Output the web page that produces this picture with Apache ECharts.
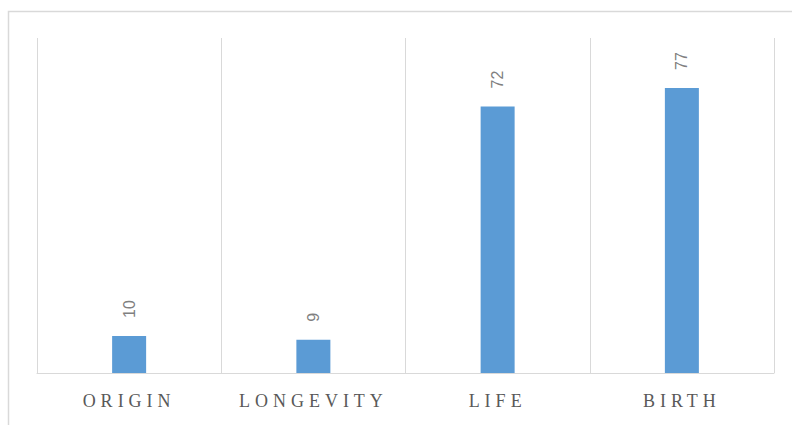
<!DOCTYPE html>
<html>
<head>
<meta charset="utf-8">
<script src="https://cdn.jsdelivr.net/npm/echarts@6/dist/echarts.min.js"></script>
<style>
  html, body { margin: 0; padding: 0; background: #fff; }
  #chart { width: 792px; height: 425px; }
  /* spaced capitals on the category labels */
  #chart text[style*="Serif"] { letter-spacing: 5px; }
</style>
</head>
<body>
<div id="chart"></div>
<script>
const categories = ['ORIGIN', 'LONGEVITY', 'LIFE', 'BIRTH'];
const values = [10, 9, 72, 77];
const axisMax = 90.5;

const chart = echarts.init(document.getElementById('chart'), null, { renderer: 'svg' });

chart.setOption({
  backgroundColor: '#ffffff',
  animation: false,
  graphic: [{
    type: 'polyline',
    shape: { points: [[8.5, 430], [8.5, 11.5], [800, 11.5]] },
    style: { stroke: '#d9d9d9', lineWidth: 1.5, fill: null },
    silent: true
  }],
  grid: { left: 37, right: 18, top: 38, bottom: 52 },
  xAxis: {
    type: 'category',
    data: categories,
    boundaryGap: true,
    axisLine: { show: true, lineStyle: { color: '#d9d9d9', width: 1 } },
    axisTick: { show: false },
    splitLine: { show: true, lineStyle: { color: '#d9d9d9', width: 1 } },
    axisLabel: {
      color: '#595959',
      fontFamily: 'Liberation Serif',
      fontSize: 18,
      margin: 19
    }
  },
  yAxis: {
    type: 'value',
    min: 0,
    max: axisMax,
    show: false,
    splitLine: { show: false }
  },
  series: [{
    type: 'bar',
    data: values,
    barWidth: 34,
    itemStyle: { color: '#5b9bd5' },
    label: {
      show: true,
      position: 'top',
      distance: 18,
      rotate: 90,
      align: 'left',
      verticalAlign: 'middle',
      color: '#808080',
      fontFamily: 'Liberation Sans',
      fontSize: 16
    }
  }]
});
</script>
</body>
</html>
